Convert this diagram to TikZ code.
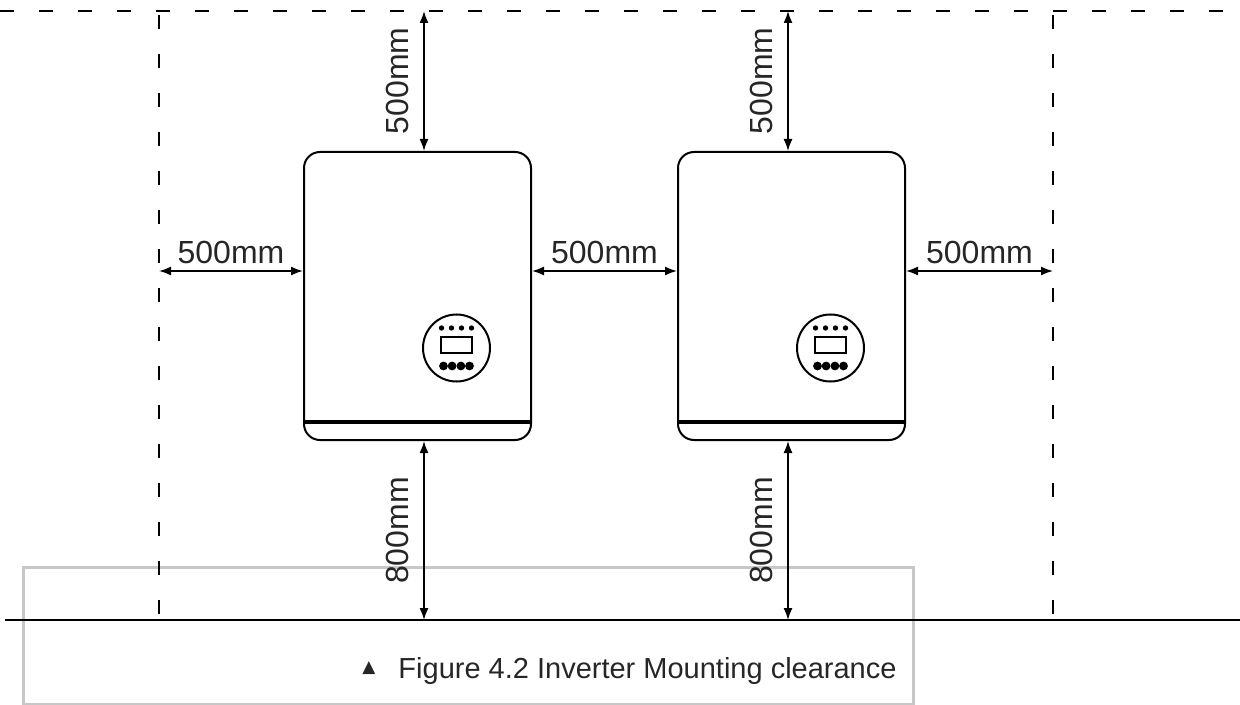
\documentclass[tikz,border=0pt]{standalone}
\usepackage{fontspec}
\setmainfont{Liberation Sans}
\newfontfamily\symfont{DejaVu Sans}
\usetikzlibrary{arrows.meta,positioning}

\begin{document}
\begin{tikzpicture}[x=0.5pt,y=-0.5pt,
        wall/.style={line width=1pt,dash pattern=on 7pt off 12.5pt},
        inverter/.style={draw,line width=1pt,rounded corners=8pt,
            minimum width=113.5pt,minimum height=144pt,inner sep=0pt},
        gap/.style={{Latex[length=6pt,width=4.5pt]}-{Latex[length=6pt,width=4.5pt]},line width=0.8pt},
        dim/.style={font=\fontsize{16}{19}\selectfont,inner sep=0pt,text=black!85}]
  \useasboundingbox (0,0) rectangle (1240,705);
  \draw[black!22,line width=1.5pt] (23,567) rectangle (913,704);

  % ceiling, walls and floor
  \draw[wall] (0,11) -- (1240,11);
  \coordinate (wallL) at (159,620);
  \coordinate (wallR) at (1053,620);
  \draw[wall] (159,15) -- (wallL);
  \draw[wall] (1053,15) -- (wallR);
  \coordinate (floorL) at (5,620);
  \coordinate (floorR) at (1240,620);
  \draw[line width=1pt] (floorL) -- (floorR);

  \node[inverter] (inv1) at (417.5,296) {};
  \node[inverter] (inv2) at (791.5,296) {};

  \foreach \inv in {inv1,inv2}{
    \draw[line width=2pt] ([yshift=9.5pt]\inv.south west) -- ([yshift=9.5pt]\inv.south east);
    \node[draw,circle,line width=1pt,minimum size=33.5pt,inner sep=0pt] (\inv-lcd) at ([shift={(39,52)}]\inv.center) {};
    \draw[line width=0.9pt] ([shift={(-15.5,-11)}]\inv-lcd.center) rectangle ([shift={(15.5,5)}]\inv-lcd.center);
    \foreach \dx in {-15,-5,5,15}
      \fill ([shift={(\dx,-20)}]\inv-lcd.center) circle[radius=2.7];
    \foreach \dx in {-13,-4.4,4.4,13}
      \fill ([shift={(\dx,18)}]\inv-lcd.center) circle[radius=4.4];
  }

  % clearances
  \coordinate (top1) at (424,11);
  \coordinate (top2) at (788,11);
  \coordinate (bot1) at (424,620);
  \coordinate (bot2) at (788,620);
  \coordinate (sideL) at (159,271);
  \coordinate (sideR) at (1053,271);
  \draw[gap] (inv1.north -| top1) -- (top1) node[dim,midway,sloped,above=7pt] (lblTop1) {500mm};
  \draw[gap] (inv2.north -| top2) -- (top2) node[dim,midway,sloped,above=7pt] (lblTop2) {500mm};
  \draw[gap] (bot1) -- (inv1.south -| bot1) node[dim,midway,sloped,above=7pt] (lblBot1) {800mm};
  \draw[gap] (bot2) -- (inv2.south -| bot2) node[dim,midway,sloped,above=7pt] (lblBot2) {800mm};
  \draw[gap] (sideL) -- ([yshift=12.5pt]inv1.west) node[dim,midway,above=3pt] (lblLeft) {500mm};
  \draw[gap] ([yshift=12.5pt]inv1.east) -- ([yshift=12.5pt]inv2.west) node[dim,midway,above=3pt] (lblMid) {500mm};
  \draw[gap] ([yshift=12.5pt]inv2.east) -- (sideR) node[dim,midway,above=3pt] (lblRight) {500mm};

  \node[anchor=base west,inner sep=0pt,font=\fontsize{14.5}{17}\selectfont,text=black!85] (caption) at (362,678)
    {\raisebox{3pt}{\symfont\fontsize{8.5}{9}\selectfont ▲}\hspace{11.5pt}Figure 4.2 Inverter Mounting clearance};
\end{tikzpicture}
\end{document}
